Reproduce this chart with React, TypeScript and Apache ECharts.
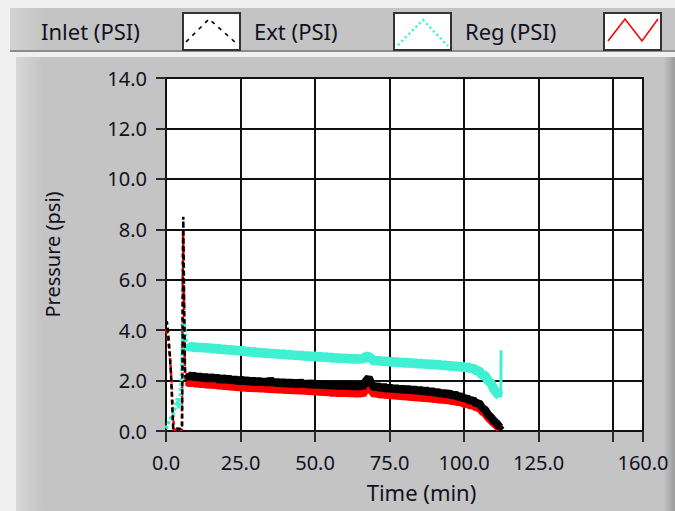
import React, { useEffect, useRef } from "react";
import * as echarts from "echarts";

// ---- Data ----
// Transient (start-up) part, drawn thin
const inletStartTime = [0, 0.3, 0.7, 1.2, 1.7, 2.1, 2.4, 3, 4, 5, 5.4, 5.8, 6.1, 6.4, 6.8, 7];
const inletStartPsi = [4.3, 4.35, 3.9, 3.2, 2.2, 1.0, 0.1, 0.08, 0.1, 0.08, 0.1, 8.5, 5.0, 2.3, 2.25, 2.28];
const regStartTime = [0, 0.4, 0.9, 1.5, 2.0, 2.4, 2.7, 3.5, 4.5, 5.3, 5.7, 6.0, 6.3, 6.6, 7];
const regStartPsi = [4.0, 3.85, 3.4, 2.7, 1.6, 0.6, 0.05, 0.05, 0.05, 0.05, 8.0, 5.5, 2.5, 1.9, 1.95];
const extStartTime = [0, 0.8, 1.5, 2.5, 3.3, 3.8, 4.3, 4.7, 5.2, 5.6, 6.1, 6.6, 7];
const extStartPsi = [0.1, 0.3, 0.5, 0.7, 1.0, 1.3, 0.9, 1.1, 2.3, 3.8, 4.3, 3.7, 3.42];

// Steady part, drawn thick (noisy band)
const bandTime = [
  7, 8, 9, 10, 11, 12, 13, 14, 15, 16, 17, 18, 19, 20, 21, 22, 23, 24, 25, 26, 27, 28, 29, 30,
  31, 32, 33, 34, 35, 36, 37, 38, 39, 40, 41, 42, 43, 44, 45, 46, 47, 48, 49, 50, 51, 52, 53, 54,
  55, 56, 57, 58, 59, 60, 61, 62, 63, 64, 65, 66, 67, 68, 69, 70, 71, 72, 73, 74, 75, 76, 77, 78,
  79, 80, 81, 82, 83, 84, 85, 86, 87, 88, 89, 90, 91, 92, 93, 94, 95, 96, 97, 98, 99, 100, 101,
  102, 103, 104, 105, 106, 107, 108, 109, 110, 111, 112,
];
const inletBandPsi = [
  2.28, 2.1, 2.25, 2.08, 2.22, 2.05, 2.2, 2.02, 2.18, 2.04, 2.16, 1.98, 2.14, 1.99, 2.12, 1.96,
  2.1, 1.93, 2.07, 1.94, 2.06, 1.9, 2.05, 1.88, 2.03, 1.89, 2.02, 1.86, 2.05, 1.87, 1.99, 1.84,
  1.98, 1.83, 1.97, 1.84, 1.96, 1.8, 1.98, 1.82, 1.93, 1.79, 1.94, 1.78, 1.92, 1.77, 1.91, 1.75,
  1.9, 1.74, 1.89, 1.73, 1.88, 1.74, 1.87, 1.72, 1.86, 1.71, 1.85, 1.72, 1.98, 2.12, 1.86, 1.7,
  1.82, 1.66, 1.8, 1.63, 1.76, 1.62, 1.75, 1.6, 1.73, 1.58, 1.72, 1.57, 1.7, 1.55, 1.68, 1.52,
  1.66, 1.5, 1.62, 1.48, 1.58, 1.44, 1.55, 1.42, 1.52, 1.38, 1.47, 1.33, 1.4, 1.26, 1.32, 1.18,
  1.24, 1.08, 1.12, 0.92, 0.85, 0.66, 0.55, 0.4, 0.3, 0.15,
];
const regBandPsi = [
  1.95, 1.88, 1.96, 1.85, 1.93, 1.83, 1.92, 1.8, 1.9, 1.79, 1.88, 1.76, 1.86, 1.74, 1.84, 1.72,
  1.82, 1.7, 1.8, 1.68, 1.78, 1.66, 1.77, 1.65, 1.76, 1.64, 1.75, 1.62, 1.73, 1.61, 1.72, 1.6,
  1.71, 1.58, 1.7, 1.57, 1.69, 1.56, 1.68, 1.55, 1.66, 1.53, 1.65, 1.52, 1.63, 1.5, 1.62, 1.49,
  1.6, 1.47, 1.59, 1.46, 1.58, 1.46, 1.57, 1.45, 1.56, 1.44, 1.55, 1.45, 1.66, 1.8, 1.58, 1.44,
  1.54, 1.41, 1.52, 1.39, 1.49, 1.37, 1.47, 1.35, 1.45, 1.33, 1.43, 1.31, 1.41, 1.3, 1.39, 1.28,
  1.37, 1.26, 1.35, 1.24, 1.32, 1.21, 1.29, 1.19, 1.27, 1.16, 1.23, 1.12, 1.18, 1.06, 1.1, 1.0,
  1.04, 0.92, 0.94, 0.78, 0.7, 0.54, 0.42, 0.3, 0.2, 0.08,
];
const extBandPsi = [
  3.42, 3.28, 3.4, 3.25, 3.38, 3.24, 3.37, 3.22, 3.36, 3.2, 3.33, 3.18, 3.32, 3.15, 3.3, 3.14,
  3.27, 3.12, 3.25, 3.1, 3.22, 3.07, 3.2, 3.05, 3.18, 3.04, 3.16, 3.02, 3.14, 3.01, 3.12, 2.99,
  3.11, 2.97, 3.09, 2.95, 3.08, 2.93, 3.06, 2.92, 3.04, 2.9, 3.03, 2.89, 3.01, 2.87, 3.0, 2.86,
  2.98, 2.84, 2.96, 2.83, 2.95, 2.82, 2.94, 2.8, 2.93, 2.79, 2.92, 2.8, 2.97, 2.95, 2.86, 2.74,
  2.85, 2.72, 2.83, 2.7, 2.81, 2.68, 2.79, 2.67, 2.78, 2.65, 2.76, 2.64, 2.75, 2.62, 2.73, 2.61,
  2.72, 2.59, 2.7, 2.58, 2.68, 2.56, 2.66, 2.54, 2.64, 2.52, 2.62, 2.5, 2.6, 2.48, 2.57, 2.45,
  2.52, 2.38, 2.4, 2.22, 2.2, 2.0, 1.9, 1.65, 1.5, 1.38,
];
const inletEndTime = [112, 112.8];
const inletEndPsi = [0.15, 0.05];
const extEndTime = [112, 112.3, 112.4];
const extEndPsi = [1.38, 1.35, 3.2];

const yTicks = [0, 2, 4, 6, 8, 10, 12, 14];
const legendNames = ["Inlet (PSI)", "Ext (PSI)", "Reg (PSI)"];

const INLET_COLOR = "#000000";
const EXT_COLOR = "#40F0D2";
const REG_COLOR = "#FF0000";
const TEXT_COLOR = "#111122";
const FONT = "Noto Sans";

const pairs = (t: number[], v: number[]) => t.map((x, i) => [x, v[i]]);

export default function App() {
  const ref = useRef<HTMLDivElement>(null);
  useEffect(() => {
    if (!ref.current) return;
    const chart = echarts.init(ref.current, undefined, { renderer: "svg" });

    const legendText = (text: string, x: number) => ({
      type: "text",
      z: 50,
      x,
      y: 31,
      style: { text, fill: TEXT_COLOR, font: `22px "${FONT}"`, verticalAlign: "middle" },
    });
    const legendBox = (x: number) => ({
      type: "rect",
      z: 50,
      shape: { x, y: 13, width: 57, height: 37 },
      style: { fill: "#ffffff", stroke: "#333333", lineWidth: 2 },
    });

    const option: any = {
      animation: false,
      backgroundColor: "#f0f0f0",
      textStyle: { fontFamily: FONT },
      grid: {
        left: 166,
        right: 32,
        top: 78,
        bottom: 80,
        show: true,
        backgroundColor: "#ffffff",
        borderColor: "#1e1e1e",
        borderWidth: 2,
      },
      xAxis: {
        type: "value",
        min: 0,
        max: 160,
        interval: 25,
        offset: 4,
        axisLine: { show: false },
        axisTick: { show: true, length: 11, lineStyle: { color: "#2a2a2a", width: 2 } },
        axisLabel: {
          margin: 17,
          fontSize: 20,
          color: TEXT_COLOR,
          fontFamily: FONT,
          showMaxLabel: true,
          formatter: (v: number) => (v === 150 ? "" : v.toFixed(1)),
        },
        splitLine: { show: true, lineStyle: { color: "#111111", width: 2 } },
        name: "Time (min)",
        nameLocation: "middle",
        nameGap: 46,
        nameTextStyle: {
          fontSize: 22,
          lineHeight: 22,
          color: TEXT_COLOR,
          fontFamily: FONT,
          padding: [0, 0, 0, 34],
        },
      },
      yAxis: {
        type: "value",
        min: yTicks[0],
        max: yTicks[yTicks.length - 1],
        interval: 2,
        offset: 3,
        axisLine: { show: false },
        axisTick: { show: true, length: 10, lineStyle: { color: "#2a2a2a", width: 2 } },
        axisLabel: {
          margin: 16,
          fontSize: 20,
          color: TEXT_COLOR,
          fontFamily: FONT,
          formatter: (v: number) => v.toFixed(1),
        },
        splitLine: { show: true, lineStyle: { color: "#111111", width: 2 } },
        name: "Pressure (psi)",
        nameLocation: "middle",
        nameGap: 101,
        nameTextStyle: { fontSize: 20, color: TEXT_COLOR, fontFamily: FONT },
      },
      graphic: [
        {
          type: "rect",
          z: -10,
          shape: { x: 10, y: 8, width: 665, height: 44 },
          style: {
            fill: new echarts.graphic.LinearGradient(0, 0, 1, 0, [
              { offset: 0, color: "#d4d4d4" },
              { offset: 0.05, color: "#c4c4c4" },
              { offset: 1, color: "#c4c4c4" },
            ]),
          },
        },
        { type: "rect", z: -9, shape: { x: 10, y: 50, width: 665, height: 2 }, style: { fill: "#8c8c8c" } },
        {
          type: "rect",
          z: -10,
          shape: { x: 16, y: 57, width: 659, height: 454 },
          style: {
            fill: new echarts.graphic.LinearGradient(0, 0, 1, 0, [
              { offset: 0, color: "#d8d8d8" },
              { offset: 0.04, color: "#c4c4c4" },
              { offset: 0.982, color: "#c4c4c4" },
              { offset: 1, color: "#9c9c9c" },
            ]),
          },
        },
        legendText(legendNames[0], 41),
        legendBox(183),
        {
          type: "polyline",
          z: 51,
          shape: { points: [[186, 42], [209, 19], [236, 43]] },
          style: { stroke: INLET_COLOR, lineWidth: 1.6, lineDash: [4, 5], fill: null },
        },
        legendText(legendNames[1], 254),
        legendBox(394),
        {
          type: "polyline",
          z: 51,
          shape: { points: [[398, 45], [423, 20], [448, 46]] },
          style: { stroke: EXT_COLOR, lineWidth: 2.6, lineDash: [2, 3], fill: null },
        },
        legendText(legendNames[2], 465),
        legendBox(604),
        {
          type: "polyline",
          z: 51,
          shape: { points: [[608, 41], [625, 19], [642, 41], [658, 19]] },
          style: { stroke: REG_COLOR, lineWidth: 1.6, fill: null },
        },
      ],
      series: [
        {
          name: legendNames[2],
          type: "line",
          symbol: "none",
          z: 2,
          data: pairs(regStartTime, regStartPsi),
          lineStyle: { color: REG_COLOR, width: 2.5, type: [4, 3] },
        },
        {
          name: legendNames[2],
          type: "line",
          symbol: "none",
          z: 2,
          data: pairs(bandTime, regBandPsi),
          lineStyle: { color: REG_COLOR, width: 8, join: "bevel" },
        },
        {
          name: legendNames[1],
          type: "line",
          symbol: "none",
          z: 3,
          data: pairs(extStartTime, extStartPsi),
          lineStyle: { color: EXT_COLOR, width: 3.5, type: [3, 2] },
        },
        {
          name: legendNames[1],
          type: "line",
          symbol: "none",
          z: 3,
          data: pairs(bandTime, extBandPsi),
          lineStyle: { color: EXT_COLOR, width: 9.5, join: "bevel" },
        },
        {
          name: legendNames[1],
          type: "line",
          symbol: "none",
          z: 3,
          data: pairs(extEndTime, extEndPsi),
          lineStyle: { color: EXT_COLOR, width: 3 },
        },
        {
          name: legendNames[0],
          type: "line",
          symbol: "none",
          z: 4,
          data: pairs(inletStartTime, inletStartPsi),
          lineStyle: { color: INLET_COLOR, width: 2.5, type: [5, 3] },
        },
        {
          name: legendNames[0],
          type: "line",
          symbol: "none",
          z: 4,
          data: pairs(bandTime, inletBandPsi),
          lineStyle: { color: INLET_COLOR, width: 8, join: "bevel" },
        },
        {
          name: legendNames[0],
          type: "line",
          symbol: "none",
          z: 4,
          data: pairs(inletEndTime, inletEndPsi),
          lineStyle: { color: INLET_COLOR, width: 6 },
        },
      ],
    };
    chart.setOption(option);
    return () => chart.dispose();
  }, []);

  return (
    <div
      ref={ref}
      style={{ position: "fixed", left: 0, top: 0, width: 675, height: 511 }}
    />
  );
}
